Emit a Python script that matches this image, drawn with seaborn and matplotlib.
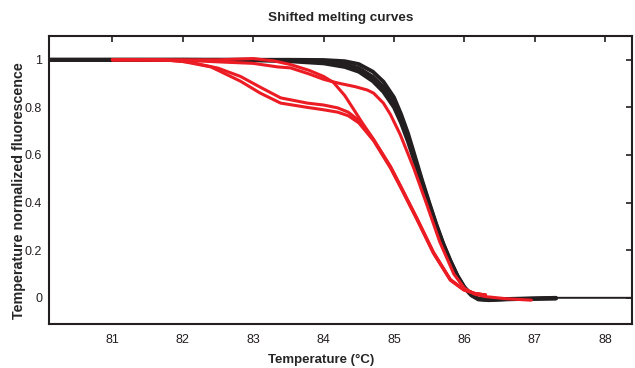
import numpy as np
import pandas as pd
import matplotlib
matplotlib.use('Agg')
import matplotlib.pyplot as plt
import seaborn as sns

# black curves share one temperature grid
black_x = [80.1, 81.0, 82.0, 83.0, 83.5, 84.0, 84.3, 84.5, 84.7, 84.85, 85.0, 85.1, 85.2, 85.3,
           85.4, 85.5, 85.6, 85.7, 85.8, 85.9, 86.0, 86.1, 86.2, 86.35, 86.6, 87.3, 88.4]
black_hi = [1.0, 1.0, 1.0, 1.0, 1.0, 0.999, 0.994, 0.982, 0.95, 0.908, 0.842, 0.772, 0.69, 0.592,
            0.493, 0.40, 0.31, 0.228, 0.157, 0.094, 0.045, 0.013, -0.004, -0.007, -0.006, -0.002, np.nan]
black_mid = [1.0, 1.0, 1.0, 1.0, 0.997, 0.993, 0.982, 0.965, 0.928, 0.885, 0.82, 0.755, 0.675, 0.58,
             0.485, 0.395, 0.305, 0.225, 0.155, 0.092, 0.043, 0.012, -0.005, -0.008, -0.005, 0.0, np.nan]
black_lo = [1.0, 1.0, 1.0, 0.998, 0.994, 0.985, 0.97, 0.95, 0.91, 0.865, 0.80, 0.735, 0.655, 0.565,
            0.475, 0.39, 0.30, 0.222, 0.153, 0.09, 0.041, 0.01, -0.007, -0.01, -0.006, -0.003, np.nan]
black_thin = [1.0, 1.0, 1.0, 1.0, 0.998, 0.99, 0.978, 0.96, 0.92, 0.875, 0.81, 0.745, 0.665, 0.572,
              0.48, 0.392, 0.303, 0.224, 0.154, 0.091, 0.042, 0.011, -0.006, -0.008, -0.004, 0.0, 0.0]

# red curves
red_a1_x = [81.0, 81.5, 81.8, 82.1, 82.5, 82.82, 83.1, 83.39, 83.77, 84.0, 84.2, 84.35, 84.5,
            84.71, 84.95, 85.09, 85.33, 85.56, 85.8, 85.99, 86.15, 86.3]
red_a1_y = [1.0, 1.0, 0.998, 0.99, 0.965, 0.93, 0.885, 0.84, 0.818, 0.81, 0.798, 0.78, 0.745,
            0.664, 0.55, 0.47, 0.33, 0.19, 0.076, 0.034, 0.018, 0.012]
red_a2_x = [81.0, 81.7, 82.0, 82.4, 82.82, 83.1, 83.39, 83.77, 84.0, 84.2, 84.35, 84.5,
            84.71, 84.95, 85.09, 85.33, 85.56, 85.8, 85.99, 86.15, 86.3]
red_a2_y = [1.0, 1.0, 0.993, 0.97, 0.91, 0.86, 0.818, 0.80, 0.79, 0.78, 0.765, 0.735,
            0.66, 0.545, 0.466, 0.326, 0.187, 0.074, 0.033, 0.018, 0.012]
red_c_x = [81.0, 82.5, 83.0, 83.3, 83.53, 83.8, 84.0, 84.14, 84.3, 84.42, 84.55, 84.71, 84.95,
           85.09, 85.33, 85.56, 85.8, 85.99, 86.15, 86.3]
red_c_y = [1.0, 1.0, 1.005, 0.995, 0.98, 0.955, 0.93, 0.905, 0.85, 0.795, 0.735, 0.666, 0.552,
           0.472, 0.332, 0.192, 0.077, 0.035, 0.018, 0.012]
red_d_x = [81.0, 82.0, 82.6, 83.0, 83.35, 83.53, 83.8, 84.0, 84.14, 84.24, 84.45, 84.62, 84.71,
           84.85, 84.95, 85.09, 85.28, 85.45, 85.65, 85.85, 86.0, 86.15, 86.3, 86.6, 86.95]
red_d_y = [1.0, 0.998, 0.99, 0.985, 0.97, 0.966, 0.94, 0.918, 0.907, 0.90, 0.887, 0.873, 0.86,
           0.818, 0.77, 0.685, 0.545, 0.405, 0.235, 0.10, 0.04, 0.015, 0.005, -0.004, -0.01]

x_ticks = [81, 82, 83, 84, 85, 86, 87, 88]
y_ticks = [0, 0.2, 0.4, 0.6, 0.8, 1]

sns.set_style('white')
plt.rcParams['font.family'] = ['Liberation Sans', 'DejaVu Sans']

fig = plt.figure(figsize=(6.35, 3.68), dpi=100)
ax = fig.add_axes([0.0772, 0.1196, 0.918, 0.7826])

for yy in [black_hi, black_mid, black_lo]:
    sns.lineplot(x=black_x[:-1], y=yy[:-1], color='#231f20', lw=2.8, ax=ax, sort=False)
sns.lineplot(x=black_x, y=black_thin, color='#231f20', lw=1.4, ax=ax, sort=False)

for xx, yy in [(red_d_x, red_d_y), (red_a1_x, red_a1_y), (red_a2_x, red_a2_y), (red_c_x, red_c_y)]:
    sns.lineplot(x=xx, y=yy, color='#ec1c24', lw=2.2, ax=ax, sort=False)

ax.set_xlim(80.1, 88.38)
ax.set_ylim(-0.11, 1.1)
ax.set_xticks(x_ticks)
ax.set_xticklabels([str(t) for t in x_ticks])
ax.set_yticks(y_ticks)
ax.set_yticklabels(['%g' % t for t in y_ticks])
ax.tick_params(direction='in', length=4, width=1.2, top=True, right=True,
               labelsize=9, colors='#231f20')
ax.tick_params(axis='x', pad=7)
ax.tick_params(axis='y', pad=5)
for s in ax.spines.values():
    s.set_linewidth(1.5)
    s.set_color('#231f20')
    s.set_visible(True)

ax.set_title('Shifted melting curves', fontsize=9.7, fontweight='bold', pad=11)
ax.set_xlabel('Temperature (\u00b0C)', fontsize=9.5, fontweight='bold')
ax.set_ylabel('Temperature normalized fluorescence', fontsize=10.3, fontweight='bold')
ax.xaxis.set_label_coords(0.4666, -0.105)
ax.yaxis.set_label_coords(-0.039, 0.462)

fig.savefig('out.png', dpi=100)
